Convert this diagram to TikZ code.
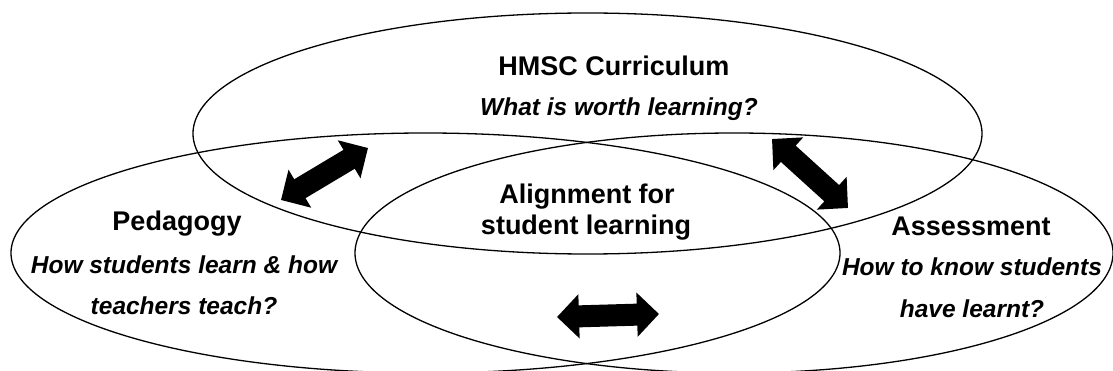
\documentclass[tikz,border=0pt]{standalone}
\usepackage{fontspec}
\setmainfont{Liberation Sans}
\usetikzlibrary{arrows.meta}

\begin{document}
\begin{tikzpicture}[x=1pt,y=-1pt,
  title/.style={font=\fontsize{27}{32}\selectfont\bfseries,anchor=base,inner sep=0pt},
  quest/.style={font=\fontsize{24.5}{30}\selectfont\bfseries\itshape,anchor=base,inner sep=0pt},
  biarrow/.style={line width=22pt,{Triangle[length=22pt,width=43pt]}-{Triangle[length=22pt,width=43pt]}}]
  \clip (0,0) rectangle (1113,371);
  \draw[line width=1.3pt] (587.5,133.5) ellipse [x radius=394.5,y radius=120.5];
  \draw[line width=1.3pt] (425.5,253) ellipse [x radius=414.5,y radius=120];
  \draw[line width=1.3pt] (734,253) ellipse [x radius=379,y radius=120];
  \node[title] (curr) at (614,76) {HMSC Curriculum};
  \node[quest] (currq) at (619,116) {What is worth learning?};
  \node[title] (align1) at (587,204) {Alignment for};
  \node[title] (align2) at (586,235) {student learning};
  \node[title] (ped) at (177,231) {Pedagogy};
  \node[quest] (pedq1) at (184,273) {How students learn \& how};
  \node[quest] (pedq2) at (184,314) {teachers teach?};
  \node[title] (ass) at (971,236) {Assessment};
  \node[quest] (assq1) at (972,276) {How to know students};
  \node[quest] (assq2) at (972,317) {have learnt?};
  \coordinate (pc) at (281,200);
  \coordinate (cp) at (368,148);
  \coordinate (ca) at (772,139);
  \coordinate (ac) at (848,208);
  \coordinate (pa) at (557,317);
  \coordinate (ap) at (659,314);
  \draw[biarrow] (pc) -- (cp);
  \draw[biarrow] (ca) -- (ac);
  \draw[biarrow] (pa) -- (ap);
\end{tikzpicture}
\end{document}
